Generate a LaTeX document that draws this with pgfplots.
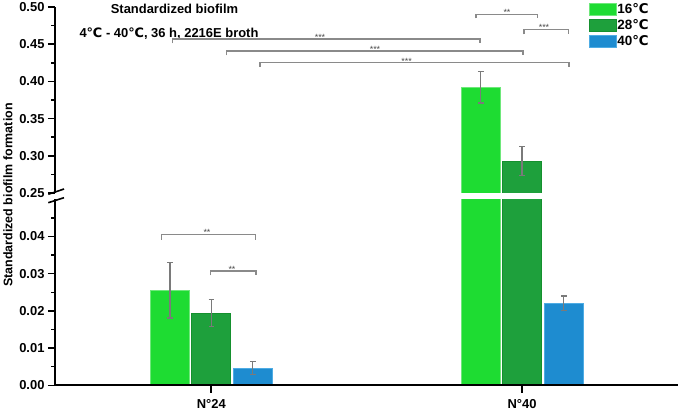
\documentclass[border=0pt]{standalone}
\usepackage{pgfplots}
\pgfplotsset{compat=1.18}
\usepackage{pgfplotstable}
\usepackage{fontspec}
\setmainfont{Liberation Sans}
\newfontfamily\dejavu{DejaVu Sans}
\newcommand{\dC}{{\dejavu ℃}}
\definecolor{gA}{HTML}{1EDC32}
\definecolor{gAe}{HTML}{6EE87A}
\definecolor{gB}{HTML}{1EA03C}
\definecolor{gBe}{HTML}{15902E}
\definecolor{bC}{HTML}{1E8CD0}
\definecolor{bCe}{HTML}{4EACE4}
\definecolor{eb}{HTML}{7A7A7A}
\definecolor{br}{HTML}{8A8A8A}

\pgfplotstableread{
x y e
170.0 0.0256 0.0075
480.7 0.3920 0.0210
}\tA
\pgfplotstableread{
x y e
211.3 0.0194 0.0037
522.0 0.2925 0.0195
}\tB
\pgfplotstableread{
x y e
252.7 0.0046 0.0018
563.8 0.0221 0.0019
}\tC

\pgfplotsset{
 common/.style={
  scale only axis, width=623bp, height=186bp,
  xmin=55, xmax=678,
  ybar, bar width=39bp, bar shift=0pt,
  legend image code/.code={\draw[##1, line width=0.8bp] (0bp,-6.2bp) rectangle (27bp,6.2bp);},
  axis y line*=left, axis line style={-, line width=2bp, black},
  tick align=outside, major tick length=7bp, minor tick length=3.5bp,
  every tick/.style={black, line width=1.5bp},
  scaled y ticks=false,
  yticklabel style={font=\bfseries\fontsize{13}{13}\selectfont,
    /pgf/number format/fixed, /pgf/number format/fixed zerofill,
    /pgf/number format/precision=2, /pgf/number format/assume math mode=true},
  error bars/y dir=both, error bars/y explicit,
  error bars/error bar style={eb, line width=1.2bp},
  error bars/error mark options={rotate=90, mark size=2.8bp, eb, line width=1.2bp},
 },
}

\begin{document}
\begin{tikzpicture}
\useasboundingbox (0,0) rectangle (680bp,410bp);
% lower axis
\begin{axis}[common, at={(55bp,24.7bp)}, anchor=south west,
  axis on top,
  ymin=0, ymax=0.05,
  ytick={0,0.01,0.02,0.03,0.04},
  minor ytick={0.005,0.015,0.025,0.035,0.045},
  axis x line*=bottom, xtick align=outside, ytick align=outside,
  xtick={211.3,522.0}, xticklabels={N°24,N°40},
  x tick label style={font=\bfseries\fontsize{13}{13}\selectfont, yshift=-3.5bp},
  legend style={at={(axis cs:588.8,0.10282)}, anchor=north west, draw=none, fill=none,
    inner sep=0pt, row sep=2.6bp, nodes={inner sep=0.5bp},
    font=\bfseries\fontsize{13.5}{13.5}\selectfont,
    /tikz/every even column/.append style={column sep=7bp}},
  legend cell align=left,
]
\addplot[fill=gA, draw=gAe, line width=0.8bp] table[x=x, y=y, y error=e] {\tA};
\addplot[fill=gB, draw=gBe, line width=0.8bp] table[x=x, y=y, y error=e] {\tB};
\addplot[fill=bC, draw=bCe, line width=0.8bp] table[x=x, y=y, y error=e] {\tC};
\legend{16\dC,28\dC,40\dC}
\end{axis}
% upper axis
\begin{axis}[common, at={(55bp,217bp)}, anchor=south west,
  ymin=0.25, ymax=0.50,
  restrict y to domain=0.25:1,
  ytick={0.25,0.30,0.35,0.40,0.45,0.50},
  minor ytick={0.275,0.325,0.375,0.425,0.475},
  axis x line=none, xtick=\empty, ytick align=outside,
]
\addplot[fill=gA, draw=gAe, line width=0.8bp] table[x=x, y=y, y error=e] {\tA};
\addplot[fill=gB, draw=gBe, line width=0.8bp] table[x=x, y=y, y error=e] {\tB};
\end{axis}
% annotations in pixel coordinates
\begin{scope}[yshift=410bp, x=1bp, y=-1bp]
 % x tick marks
 \draw[black, line width=2bp] (211.3,385.3) -- (211.3,393);
 \draw[black, line width=2bp] (522.0,385.3) -- (522.0,393);
 % axis break
 \draw[black, line width=1.6bp] (48.3,194.3) -- (64,189);
 \draw[black, line width=1.6bp] (48.3,202.7) -- (64,197.7);
 % titles
 \node[anchor=base, inner sep=0pt, font=\bfseries\fontsize{13}{13}\selectfont] at (174.5,14) {Standardized biofilm};
 \node[anchor=base, inner sep=0pt, font=\bfseries\fontsize{13}{13}\selectfont] at (169,37.5) {4\dC{} - 40\dC, 36 h, 2216E broth};
 \node[rotate=90, inner sep=0pt, font=\bfseries\fontsize{12.5}{12.5}\selectfont] at (8,195) {Standardized biofilm formation};
 % brackets
 \foreach \xa/\xb/\yy/\yd/\xs/\st in {
   172.3/480/39/43.5/320/***,
   226.7/523/51/55.5/375/***,
   260/569/62.7/67/406.7/***,
   476/537.3/14.3/18.5/507/**,
   524/568.3/29.3/34.3/544/***,
   161.7/255.3/234.3/240/207/**,
   210.7/256/271/275.3/232/**}{
   \draw[br, line width=1.1bp] (\xa,\yd) -- (\xa,\yy) -- (\xb,\yy) -- (\xb,\yd);
   \node[anchor=base, inner sep=0pt, font=\fontsize{9}{9}\selectfont, text=black!70] at (\xs,\yy+1.5) {\st};
 }
\end{scope}
\end{tikzpicture}
\end{document}
